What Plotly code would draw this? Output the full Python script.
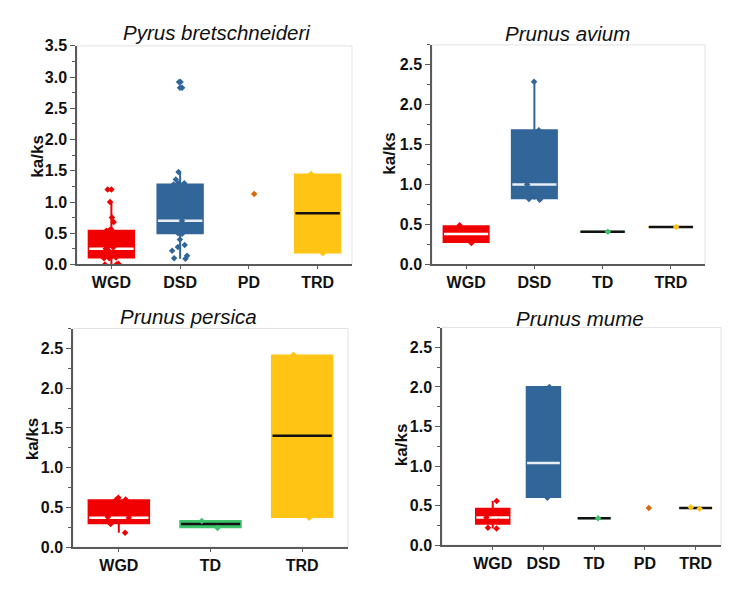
import plotly.graph_objects as go

# ---------------- data ----------------
COLORS = {"WGD": "#f00000", "DSD": "#326598", "TD": "#3ec46d", "PD": "#d96a0c", "TRD": "#ffc414"}
MEDIAN_COLORS = {"WGD": "#ffffff", "DSD": "#e8eef5", "TD": "#111111", "PD": "#111111", "TRD": "#111111"}

titles = ["Pyrus bretschneideri", "Prunus avium", "Prunus persica", "Prunus mume"]
y_label = "ka/ks"

# Panel 1: Pyrus bretschneideri
p1_categories = ["WGD", "DSD", "PD", "TRD"]
p1_q1 = {"WGD": 0.11, "DSD": 0.50, "TRD": 0.19}
p1_median = {"WGD": 0.25, "DSD": 0.70, "TRD": 0.82}
p1_q3 = {"WGD": 0.54, "DSD": 1.28, "TRD": 1.44}
p1_lower = {"WGD": 0.00, "DSD": 0.09, "TRD": 0.19}
p1_upper = {"WGD": 1.00, "DSD": 1.48, "TRD": 1.44}
p1_points = {
    "WGD": [1.20, 1.20, 1.00, 0.75, 0.68, 0.56, 0.55, 0.54, 0.52, 0.50, 0.45, 0.40, 0.35, 0.30,
            0.27, 0.25, 0.22, 0.18, 0.12, 0.11, 0.10, 0.10, 0.01, 0.00, 0.00],
    "DSD": [2.92, 2.92, 2.83, 2.83, 1.48, 1.36, 1.30, 1.30, 1.29, 1.28, 1.10, 0.92, 0.70, 0.60,
            0.50, 0.49, 0.40, 0.31, 0.28, 0.22, 0.14, 0.10, 0.09],
    "PD": [1.13],
    "TRD": [1.45, 0.18],
}

# Panel 2: Prunus avium
p2_categories = ["WGD", "DSD", "TD", "TRD"]
p2_q1 = {"WGD": 0.28, "DSD": 0.83, "TD": 0.41, "TRD": 0.47}
p2_median = {"WGD": 0.38, "DSD": 1.00, "TD": 0.41, "TRD": 0.47}
p2_q3 = {"WGD": 0.48, "DSD": 1.68, "TD": 0.41, "TRD": 0.47}
p2_lower = {"WGD": 0.28, "DSD": 0.81, "TD": 0.41, "TRD": 0.47}
p2_upper = {"WGD": 0.48, "DSD": 2.29, "TD": 0.41, "TRD": 0.47}
p2_points = {
    "WGD": [0.49, 0.27],
    "DSD": [2.29, 1.68, 1.33, 1.00, 0.83, 0.82, 0.81],
    "TD": [0.41],
    "TRD": [0.47],
}

# Panel 3: Prunus persica
p3_categories = ["WGD", "TD", "TRD"]
p3_q1 = {"WGD": 0.30, "TD": 0.25, "TRD": 0.38}
p3_median = {"WGD": 0.37, "TD": 0.29, "TRD": 1.40}
p3_q3 = {"WGD": 0.59, "TD": 0.33, "TRD": 2.41}
p3_lower = {"WGD": 0.18, "TD": 0.25, "TRD": 0.38}
p3_upper = {"WGD": 0.59, "TD": 0.33, "TRD": 2.41}
p3_points = {
    "WGD": [0.62, 0.60, 0.59, 0.38, 0.37, 0.29, 0.18],
    "TD": [0.33, 0.24],
    "TRD": [2.42, 0.37],
}

# Panel 4: Prunus mume
p4_categories = ["WGD", "DSD", "TD", "PD", "TRD"]
p4_q1 = {"WGD": 0.27, "DSD": 0.61, "TD": 0.34, "TRD": 0.47}
p4_median = {"WGD": 0.35, "DSD": 1.04, "TD": 0.34, "TRD": 0.47}
p4_q3 = {"WGD": 0.46, "DSD": 2.00, "TD": 0.34, "TRD": 0.47}
p4_lower = {"WGD": 0.21, "DSD": 0.61, "TD": 0.34, "TRD": 0.47}
p4_upper = {"WGD": 0.56, "DSD": 2.00, "TD": 0.34, "TRD": 0.47}
p4_points = {
    "WGD": [0.56, 0.40, 0.35, 0.30, 0.22, 0.21],
    "DSD": [2.00, 1.21, 0.60],
    "TD": [0.34],
    "PD": [0.47],
    "TRD": [0.46, 0.48],
}

panels = [
    (p1_categories, p1_q1, p1_median, p1_q3, p1_lower, p1_upper, p1_points),
    (p2_categories, p2_q1, p2_median, p2_q3, p2_lower, p2_upper, p2_points),
    (p3_categories, p3_q1, p3_median, p3_q3, p3_lower, p3_upper, p3_points),
    (p4_categories, p4_q1, p4_median, p4_q3, p4_lower, p4_upper, p4_points),
]

# ---------------- layout (pixels) ----------------
W, H = 743, 595
# (x0, x1, ytop, ybottom) in pixels
panel_px = [(77, 352, 39, 264), (432, 705, 38, 264), (73, 348, 330, 555), (442, 721, 329, 553)]
y_ranges = [[0, 3.5], [0, 2.75], [0, 2.75], [0, 2.75]]
x_ranges = [[-0.5, 3.5], [-0.5, 3.5], [-0.5, 2.5], [-1.0, 4.5]]
title_px = [(217, 25), (567, 26), (188, 318), (580, 320)]
ylab_px = [(38, 153), (390, 150), (32, 444), (401, 450)]
BOX_W = 0.66

fig = go.Figure()
FONT = "Liberation Sans, Arial, sans-serif"

for i, (cats, q1, med, q3, lo, up, pts) in enumerate(panels):
    xa = "x" if i == 0 else f"x{i+1}"
    ya = "y" if i == 0 else f"y{i+1}"
    # boxes
    for c in cats:
        if c in q1:
            fig.add_trace(go.Box(
                x=[c], q1=[q1[c]], median=[q1[c]], q3=[q3[c]],
                lowerfence=[lo[c]], upperfence=[up[c]],
                fillcolor=COLORS[c], line=dict(color=COLORS[c], width=2),
                whiskerwidth=0, width=BOX_W, boxpoints=False,
                xaxis=xa, yaxis=ya, showlegend=False, hoverinfo="skip"))
    # medians
    for c in cats:
        if c in med:
            m = med[c]
            fig.add_trace(go.Box(
                x=[c], q1=[m], median=[m], q3=[m], lowerfence=[m], upperfence=[m],
                fillcolor="rgba(0,0,0,0)", line=dict(color=MEDIAN_COLORS[c], width=2.5),
                whiskerwidth=0, width=BOX_W * 0.98, boxpoints=False,
                xaxis=xa, yaxis=ya, showlegend=False, hoverinfo="skip"))
    # points
    for c in cats:
        if c in pts:
            fig.add_trace(go.Box(
                x=[c] * len(pts[c]), y=pts[c],
                boxpoints="all", jitter=0.45, pointpos=0,
                fillcolor="rgba(0,0,0,0)", line=dict(color="rgba(0,0,0,0)", width=0),
                marker=dict(color=COLORS[c], symbol="diamond", size=5),
                width=BOX_W, xaxis=xa, yaxis=ya, showlegend=False, hoverinfo="y"))

layout = dict(
    width=W, height=H, margin=dict(l=0, r=0, t=0, b=0),
    paper_bgcolor="white", plot_bgcolor="white", boxmode="overlay",
    showlegend=False, font=dict(family=FONT, color="#111111"),
)
shapes = []
annotations = []
for i in range(4):
    x0, x1, yt, yb = panel_px[i]
    xk = "xaxis" if i == 0 else f"xaxis{i+1}"
    yk = "yaxis" if i == 0 else f"yaxis{i+1}"
    xa = "x" if i == 0 else f"x{i+1}"
    ya = "y" if i == 0 else f"y{i+1}"
    cats = panels[i][0]
    layout[xk] = dict(
        domain=[x0 / W, x1 / W], anchor=ya, type="category",
        categoryorder="array", categoryarray=cats, range=x_ranges[i],
        showline=True, linecolor="#5a5a5a", linewidth=1.5,
        ticks="outside", ticklen=3, tickwidth=1, tickcolor="#5a5a5a",
        showgrid=False, zeroline=False,
        tickfont=dict(family=FONT, size=16, color="#111111", weight="bold"),
    )
    layout[yk] = dict(
        domain=[1 - yb / H, 1 - yt / H], anchor=xa, range=y_ranges[i],
        dtick=0.5, tick0=0, tickformat=".1f",
        showline=True, linecolor="#5a5a5a", linewidth=1.5,
        ticks="outside", ticklen=5, tickwidth=1, tickcolor="#5a5a5a",
        minor=dict(ticks="outside", ticklen=3, dtick=0.25, tickcolor="#5a5a5a", showgrid=False),
        showgrid=False, zeroline=False,
        tickfont=dict(family=FONT, size=16, color="#111111", weight="bold"),
    )
    shapes.append(dict(type="rect", xref=f"{xa} domain", yref=f"{ya} domain",
                       x0=0, x1=1, y0=0, y1=1, layer="below",
                       line=dict(color="#e2e2e2", width=1)))
    tx, ty = title_px[i]
    annotations.append(dict(text=titles[i], x=tx / W, y=1 - ty / H, xref="paper", yref="paper",
                            showarrow=False, xanchor="center", yanchor="middle",
                            font=dict(family=FONT, size=20.5, color="#111111", style="italic")))
    lx, ly = ylab_px[i]
    annotations.append(dict(text="<b>" + y_label + "</b>", x=lx / W, y=1 - ly / H,
                            xref="paper", yref="paper", showarrow=False, textangle=-90,
                            xanchor="center", yanchor="middle",
                            font=dict(family=FONT, size=17, color="#111111")))

layout["shapes"] = shapes
layout["annotations"] = annotations
fig.update_layout(**layout)

fig.write_html("out.html", config={"displayModeBar": False},
               post_script="document.body.style.margin='0px';")
